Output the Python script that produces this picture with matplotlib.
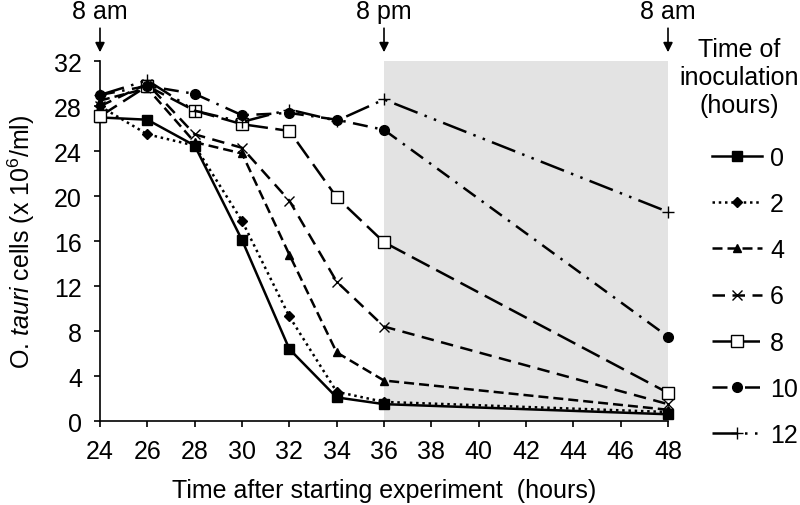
import matplotlib
matplotlib.use("Agg")
from matplotlib import pyplot as plt

plt.rcParams['font.family'] = ['Liberation Sans', 'DejaVu Sans']
plt.rcParams['mathtext.fontset'] = 'custom'
plt.rcParams['mathtext.rm'] = 'Liberation Sans'
plt.rcParams['mathtext.it'] = 'Liberation Sans:italic'

# 时间点（小时）
hours = [24, 26, 28, 30, 32, 34, 36, 48]

# 各接种时间的细胞浓度 (x 10^6/ml)
inoc_0 = [27.0, 26.8, 24.5, 16.1, 6.4, 2.1, 1.5, 0.6]
inoc_2 = [28.0, 25.5, 24.5, 17.8, 9.3, 2.6, 1.7, 0.8]
inoc_4 = [28.5, 29.6, 24.8, 23.8, 14.8, 6.1, 3.6, 1.0]
inoc_6 = [28.0, 30.0, 25.5, 24.3, 19.6, 12.4, 8.4, 1.5]
inoc_8 = [27.1, 29.8, 27.6, 26.4, 25.8, 19.9, 15.9, 2.5]
inoc_10 = [29.0, 29.8, 29.1, 27.2, 27.4, 26.8, 25.9, 7.5]
inoc_12 = [29.0, 30.3, 27.6, 26.6, 27.7, 26.7, 28.6, 18.6]

labels = ["0", "2", "4", "6", "8", "10", "12"]
series = [inoc_0, inoc_2, inoc_4, inoc_6, inoc_8, inoc_10, inoc_12]

# 线型和标记
styles = [
    dict(ls='-', marker='s', mfc='black', ms=7),
    dict(ls=(0, (1, 1.5)), marker='D', mfc='black', ms=5),
    dict(ls=(0, (4, 2)), marker='^', mfc='black', ms=6),
    dict(ls=(0, (5, 3)), marker='x', mfc='black', ms=7, mew=1),
    dict(ls=(0, (8, 3)), marker='s', mfc='white', ms=8, mew=1),
    dict(ls=(0, (6, 3, 1, 3)), marker='o', mfc='black', ms=7),
    dict(ls=(0, (10, 3, 1, 3, 1, 3)), marker='+', mfc='black', ms=8, mew=1),
]

def do_plt():
    fig = plt.figure(figsize=(8, 5.06), dpi=100)
    ax = fig.add_axes([0.125, 0.166, 0.71, 0.711])

    ax.axvspan(36, 48, color='#e3e3e3', zorder=0, lw=0)

    handles = []
    for vals, lab, st in zip(series, labels, styles):
        h, = ax.plot(hours, vals, color='black', lw=1.8, mec='black',
                     label=lab, clip_on=False, zorder=3, **st)
        handles.append(h)

    ax.set_xlim(24, 48)
    ax.set_ylim(0, 32)
    ax.set_xticks(range(24, 49, 2))
    ax.set_yticks(range(0, 33, 4))
    ax.tick_params(labelsize=18, length=4, width=1.2, direction='out', pad=9)
    ax.spines['top'].set_visible(False)
    ax.spines['right'].set_visible(False)
    for s in ['left', 'bottom']:
        ax.spines[s].set_linewidth(1.2)

    ax.set_xlabel("Time after starting experiment  (hours)", fontsize=18, labelpad=11)
    ax.set_ylabel(r"O. $\it{tauri}$ cells (x 10$^6$/ml)", fontsize=18, labelpad=12)

    # 昼夜标注
    for x, txt in [(24, "8 am"), (36, "8 pm"), (48, "8 am")]:
        ax.annotate(txt, xy=(x, 32.8), xytext=(x, 36.5), ha='center', va='center',
                    fontsize=18, annotation_clip=False,
                    arrowprops=dict(arrowstyle='-|>', color='black', lw=1.2,
                                    mutation_scale=14, shrinkA=2, shrinkB=0))

    fig.text(0.924, 0.846, "Time of\ninoculation\n(hours)", ha='center', va='center',
             fontsize=18, linespacing=1.2)
    fig.legend(handles=handles, loc='upper left', bbox_to_anchor=(0.878, 0.73),
               frameon=False, fontsize=18, handlelength=2.0, handletextpad=0.3,
               labelspacing=0.89, borderaxespad=0)

    fig.savefig("out.png", dpi=100)

if __name__ == '__main__':
    do_plt()
